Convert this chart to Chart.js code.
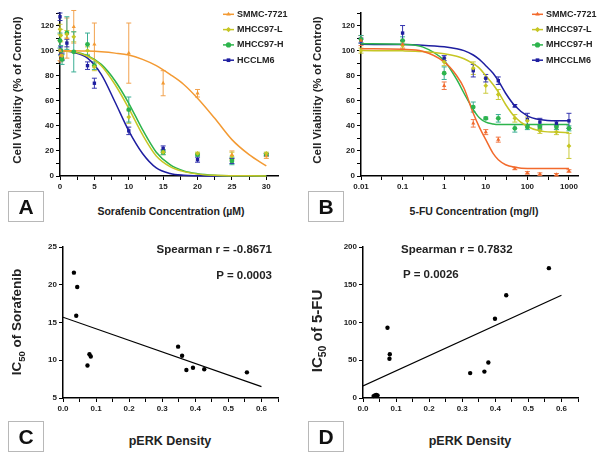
<!DOCTYPE html>
<html>
<head>
<meta charset="utf-8">
<script src="https://cdn.jsdelivr.net/npm/chart.js@4"></script>
<style>
  body { margin: 0; background: #fff; }
  #wrap { position: relative; width: 600px; height: 458px; overflow: hidden;
    font-family: "Liberation Sans", Arial, sans-serif; font-weight: bold; color: #222; }
  canvas { position: absolute; }
  .t { position: absolute; white-space: nowrap; transform: translate(-50%, -50%); font-weight: bold; }
  .rot { transform: translate(-50%, -50%) rotate(-90deg); }
  .letter { position: absolute; width: 34px; height: 29px; border: 1px solid #b8b8b8;
    font-size: 21px; line-height: 29px; text-align: center; color: #111; }
  .stat { position: absolute; font-size: 11.5px; white-space: nowrap; transform: translateY(-50%); }
</style>
</head>
<body>
<div id="wrap">
  <canvas id="chartA" width="300" height="200" style="left:0;top:0"></canvas>
  <canvas id="chartB" width="300" height="200" style="left:300px;top:0"></canvas>
  <canvas id="chartC" width="300" height="200" style="left:0;top:230px"></canvas>
  <canvas id="chartD" width="300" height="200" style="left:300px;top:230px"></canvas>

  <div class="t rot" style="left:17px;top:90px;font-size:11.5px">Cell Viability (% of Control)</div>
  <div class="t rot" style="left:317px;top:90px;font-size:11.5px">Cell Viability (% of Control)</div>
  <div class="t" style="left:171px;top:211px;font-size:10.5px">Sorafenib Concentration (µM)</div>
  <div class="t" style="left:474px;top:211px;font-size:10.5px">5-FU Concentration (mg/l)</div>
  <div class="t rot" style="left:18px;top:322px;font-size:13.5px">IC<sub style="font-size:9.5px">50</sub> of Sorafenib</div>
  <div class="t rot" style="left:318px;top:331px;font-size:15px">IC<sub style="font-size:10.5px">50</sub> of 5-FU</div>
  <div class="t" style="left:170px;top:441px;font-size:12.5px">pERK Density</div>
  <div class="t" style="left:470px;top:441px;font-size:12.5px">pERK Density</div>

  <div class="stat" style="right:328px;top:249px">Spearman r = -0.8671</div>
  <div class="stat" style="right:328px;top:275px">P = 0.0003</div>
  <div class="stat" style="left:401px;top:249px">Spearman r = 0.7832</div>
  <div class="stat" style="left:403px;top:274px">P = 0.0026</div>

  <div class="letter" style="left:8px;top:191px">A</div>
  <div class="letter" style="left:308px;top:191px">B</div>
  <div class="letter" style="left:8px;top:421px">C</div>
  <div class="letter" style="left:308px;top:421px">D</div>
</div>
<script>
// panel A: sorafenib dose response (µM)
const doseA = [0, 0.1, 0.3, 1, 2, 4, 5, 10, 15, 20, 25, 30];
const smmcA = [100, 96, null, 110, 119, null, 105, 98, 74, 66, 17, 16];
const smmcAErr = [8, 5, null, 16, 13, null, 17, 24, 10, 3, 3, 2];
const l97A = [117, 112, 96, 113, 111, 100, 87, 47, 19, 18, 16, 18];
const l97AErr = [4, 5, 3, 3, 4, 3, 3, 5, 2, 1, 3, 1];
const h97A = [108, 100, 93, 114, 99, 105, 88, 53, 19, 17, 12, 17];
const h97AErr = [6, 4, 4, 13, 16, 9, 3, 10, 2, 1, 3, 1];
const lm6A = [127, 100, 95, 106, null, 88, 74, 36, 22, 13, 12, 17];
const lm6AErr = [3, 3, 3, 3, null, 3, 4, 3, 2, 2, 2, 1];

const curveXA = [0, 2, 4, 6, 8, 10, 12, 14, 16, 18, 20, 22.5, 25, 27.5, 30];
const smmcFitA = [100, 99.9, 99.6, 99, 98, 96.5, 93, 88, 81, 73, 62, 46, 29, 17, 8];
const l97FitA = [100, 99, 95.5, 88, 73, 54, 33, 16, 7.5, 3.5, 1.5, 0.5, 0.2, 0.1, 0];
const h97FitA = [100, 99.2, 96, 89, 76, 58, 37, 19, 9, 4, 1.8, 0.6, 0.2, 0.1, 0];
const lm6FitA = [100, 98.5, 94, 81, 59, 36, 18, 6.5, 2, 0.6, 0.2, 0, 0, 0, 0];

// panel B: 5-FU dose response (mg/l)
const doseB = [0.01, 0.1, 1, 5, 10, 20, 50, 100, 200, 500, 1000];
const smmcB = [108, 105, 72, 42, 35, 29, 6, 2.5, 1.5, 1, 4];
const smmcBErr = [4, 3, 3, 3, 2, 2, 1, 1, 1, 1, 1];
const l97B = [100, 104, 91, 86, 72, 65, 46, 44, 36, 35, 24];
const l97BErr = [2, 3, 3, 5, 6, 4, 3, 3, 2, 2, 10];
const h97B = [109, 108, 82, 55, 46, 46, 38, 39, 39, 39, 38];
const h97BErr = [3, 3, 5, 4, 1, 3, 3, 2, 2, 2, 2];
const lm6B = [108, 114, 94, 84, 78, 76, 56, 45, 43, 42, 44];
const lm6BErr = [2, 6, 2, 5, 3, 3, 1, 5, 3, 2, 6];

const curveXB = [0.01, 0.1, 0.3, 1, 2, 3, 5, 7, 10, 15, 20, 30, 50, 100, 200, 500, 1000];
const smmcFitB = [101.5, 101, 99.5, 91, 80, 70, 50, 39, 29, 18, 13, 9, 7, 6, 6, 6, 6];
const l97FitB = [100, 99.8, 99.3, 97.5, 95.5, 93.5, 89.5, 86, 80, 73, 67, 57, 47, 39.5, 36, 35, 34.5];
const h97FitB = [105.5, 105, 103, 92, 77, 66, 53, 46.5, 43, 41.5, 41, 41, 41, 41, 41, 41, 41];
const lm6FitB = [105, 104.8, 104.3, 103, 101.5, 100, 96.5, 93, 88, 82, 76, 66, 56, 48, 45, 44, 44];
const decadesB = [0.01, 0.1, 1, 10, 100, 1000];

// panel C / D: IC50 vs pERK density
const perkC = [0.033, 0.043, 0.04, 0.08, 0.084, 0.074, 0.348, 0.36, 0.373, 0.393, 0.427, 0.556];
const ic50Sor = [21.6, 19.7, 15.9, 10.8, 10.5, 9.3, 11.8, 10.6, 8.7, 9.0, 8.8, 8.4];
const fitXC = [0, 0.6];
const fitYC = [15.7, 6.5];
const perkD = [0.032, 0.036, 0.04, 0.044, 0.074, 0.081, 0.08, 0.324, 0.367, 0.379, 0.399, 0.433, 0.562];
const ic50Fu = [2.5, 3.5, 4, 3.5, 93, 58, 52, 33, 35, 47, 105, 136, 172];
const fitXD = [0, 0.6];
const fitYD = [16, 136];
const perkTicks = [0, 0.05, 0.1, 0.15, 0.2, 0.25, 0.3, 0.35, 0.4, 0.45, 0.5, 0.55, 0.6, 0.65];

const FONT = '"Liberation Sans", Arial, sans-serif';

function pts(xs, ys, errs) {
  const out = [];
  xs.forEach((x, i) => {
    if (ys[i] === null) return;
    out.push({ x: x, y: ys[i], e: errs ? errs[i] : 0 });
  });
  return out;
}

const errorBars = {
  id: 'errorBars',
  beforeDatasetsDraw(chart) {
    const ctx = chart.ctx;
    const ys = chart.scales.y;
    chart.data.datasets.forEach((ds, i) => {
      if (!ds.errColor) return;
      const meta = chart.getDatasetMeta(i);
      ctx.save();
      ctx.strokeStyle = ds.errColor;
      ctx.lineWidth = 1;
      meta.data.forEach((p, j) => {
        const d = ds.data[j];
        if (!d.e) return;
        const top = ys.getPixelForValue(d.y + d.e);
        const bot = ys.getPixelForValue(d.y - d.e);
        ctx.beginPath();
        ctx.moveTo(p.x, top); ctx.lineTo(p.x, bot);
        ctx.moveTo(p.x - 2.5, top); ctx.lineTo(p.x + 2.5, top);
        ctx.moveTo(p.x - 2.5, bot); ctx.lineTo(p.x + 2.5, bot);
        ctx.stroke();
      });
      ctx.restore();
    });
  }
};

const insideLegend = {
  id: 'insideLegend',
  afterDraw(chart, args, opts) {
    if (!opts.x) return;
    const ctx = chart.ctx;
    let y = opts.y;
    chart.data.datasets.forEach(ds => {
      if (!ds.legendText) return;
      ctx.save();
      ctx.strokeStyle = ds.borderColor;
      ctx.lineWidth = 1.5;
      ctx.beginPath();
      ctx.moveTo(opts.x, y); ctx.lineTo(opts.x + 11, y);
      ctx.stroke();
      ctx.fillStyle = ds.backgroundColor;
      Chart.helpers.drawPoint(ctx, { pointStyle: ds.pointStyle, radius: 2.6, rotation: 0, borderWidth: 0 }, opts.x + 5.5, y);
      ctx.fillStyle = '#222';
      ctx.font = 'bold 9px ' + FONT;
      ctx.textBaseline = 'middle';
      ctx.fillText(ds.legendText, opts.x + 14, y);
      ctx.restore();
      y += opts.step;
    });
  }
};

function pointSet(label, data, color, errColor, style) {
  return {
    type: 'scatter', legendText: label, data: data, pointStyle: style,
    backgroundColor: color, borderColor: color, errColor: errColor,
    pointRadius: 2.4, pointBorderWidth: 0, clip: false
  };
}
function curveSet(xs, ys, color) {
  return {
    type: 'scatter', data: pts(xs, ys), showLine: true, borderColor: color,
    backgroundColor: color, borderWidth: 1.5, pointRadius: 0,
    cubicInterpolationMode: 'monotone', clip: false
  };
}

function axis(extra) {
  return Object.assign({
    border: { color: '#000', width: 1.5 },
    grid: { drawOnChartArea: false, drawTicks: true, tickLength: 4, color: '#000', lineWidth: 1 },
    ticks: { color: '#222', font: { family: FONT, weight: 'bold', size: 8 }, padding: 2, autoSkip: false, maxRotation: 0 }
  }, extra);
}
function fixedTicks(list) {
  return s => { s.ticks = list.map(v => ({ value: v })); };
}

function baseOptions(scales, pad, legend) {
  return {
    responsive: false, animation: false,
    layout: { padding: pad },
    plugins: { legend: { display: false }, tooltip: { enabled: false }, insideLegend: legend || {} },
    scales: scales
  };
}

const viabTicks = [0, 10, 20, 30, 40, 50, 60, 70, 80, 90, 100, 110, 120, 130];
function viabAxis() {
  const a = axis({ min: 0, max: 130, afterFit: s => { s.width = 60; }, afterBuildTicks: fixedTicks(viabTicks) });
  a.ticks.callback = v => (v % 20 === 0 && v <= 120 ? v : '');
  return a;
}

// A
const colA = { smmc: '#F39A33', l97: '#C6C624', h97: '#2DB44C', lm6: '#1E1EA0' };
const xA = axis({ type: 'linear', min: 0, max: 31.7, afterFit: s => { s.height = 24; },
  afterBuildTicks: fixedTicks([0, 2.5, 5, 7.5, 10, 12.5, 15, 17.5, 20, 22.5, 25, 27.5, 30]) });
xA.ticks.callback = v => (v % 5 === 0 ? v : '');
new Chart(document.getElementById('chartA'), {
  type: 'scatter',
  data: { datasets: [
    pointSet('SMMC-7721', pts(doseA, smmcA, smmcAErr), colA.smmc, '#F2A24E', 'triangle'),
    pointSet('MHCC97-L', pts(doseA, l97A, l97AErr), colA.l97, '#CACA3C', 'rectRot'),
    pointSet('MHCC97-H', pts(doseA, h97A, h97AErr), colA.h97, '#3AAE94', 'circle'),
    pointSet('HCCLM6', pts(doseA, lm6A, lm6AErr), colA.lm6, '#3535B0', 'rect'),
    curveSet(curveXA, smmcFitA, colA.smmc),
    curveSet(curveXA, l97FitA, colA.l97),
    curveSet(curveXA, h97FitA, colA.h97),
    curveSet(curveXA, lm6FitA, colA.lm6)
  ] },
  options: baseOptions({ x: xA, y: viabAxis() }, { top: 13, right: 22, left: 0, bottom: 0 }, { x: 223, y: 14.3, step: 15.3 }),
  plugins: [errorBars, insideLegend]
});

// B
const colB = { smmc: '#F26A2C', l97: '#C6C624', h97: '#2DB44C', lm6: '#1E1EA0' };
const ticksB = [];
decadesB.forEach(d => { ticksB.push(d); ticksB.push(Math.sqrt(d * d * 10)); });
const xB = axis({ type: 'logarithmic', min: 0.01, max: 1650, afterFit: s => { s.height = 24; },
  afterBuildTicks: fixedTicks(ticksB.filter(v => v <= 1650)) });
xB.ticks.callback = v => (decadesB.includes(v) ? String(v) : '');
new Chart(document.getElementById('chartB'), {
  type: 'scatter',
  data: { datasets: [
    pointSet('SMMC-7721', pts(doseB, smmcB, smmcBErr), colB.smmc, '#F07A48', 'triangle'),
    pointSet('MHCC97-L', pts(doseB, l97B, l97BErr), colB.l97, '#CACA3C', 'rectRot'),
    pointSet('MHCC97-H', pts(doseB, h97B, h97BErr), colB.h97, '#3AAE94', 'circle'),
    pointSet('MHCCLM6', pts(doseB, lm6B, lm6BErr), colB.lm6, '#3535B0', 'rect'),
    curveSet(curveXB, smmcFitB, colB.smmc),
    curveSet(curveXB, l97FitB, colB.l97),
    curveSet(curveXB, h97FitB, colB.h97),
    curveSet(curveXB, lm6FitB, colB.lm6)
  ] },
  options: baseOptions({ x: xB, y: viabAxis() }, { top: 13, right: 22, left: 1, bottom: 0 }, { x: 232, y: 14.3, step: 15.3 }),
  plugins: [errorBars, insideLegend]
});

// C and D
function perkAxis() {
  const a = axis({ type: 'linear', min: 0, max: 0.65, afterFit: s => { s.height = 32; }, afterBuildTicks: fixedTicks(perkTicks) });
  a.ticks.callback = v => (Math.round(v * 100) % 10 === 0 && v < 0.61 ? v.toFixed(1) : '');
  return a;
}
function scatterChart(id, xs, ys, fx, fy, ymin, ymax, yticks) {
  const yAx = axis({ min: ymin, max: ymax, afterFit: s => { s.width = 63; }, afterBuildTicks: fixedTicks(yticks) });
  new Chart(document.getElementById(id), {
    type: 'scatter',
    data: { datasets: [
      { data: pts(xs, ys), backgroundColor: '#000', borderColor: '#000', pointRadius: 2.2, pointBorderWidth: 0, clip: false },
      { data: pts(fx, fy), showLine: true, borderColor: '#000', borderWidth: 1.2, pointRadius: 0 }
    ] },
    options: baseOptions({ x: perkAxis(), y: yAx }, { top: 17, right: 22, left: 0, bottom: 0 })
  });
}
scatterChart('chartC', perkC, ic50Sor, fitXC, fitYC, 5, 25, [5, 10, 15, 20, 25]);
scatterChart('chartD', perkD, ic50Fu, fitXD, fitYD, 0, 200, [0, 50, 100, 150, 200]);
</script>
</body>
</html>
